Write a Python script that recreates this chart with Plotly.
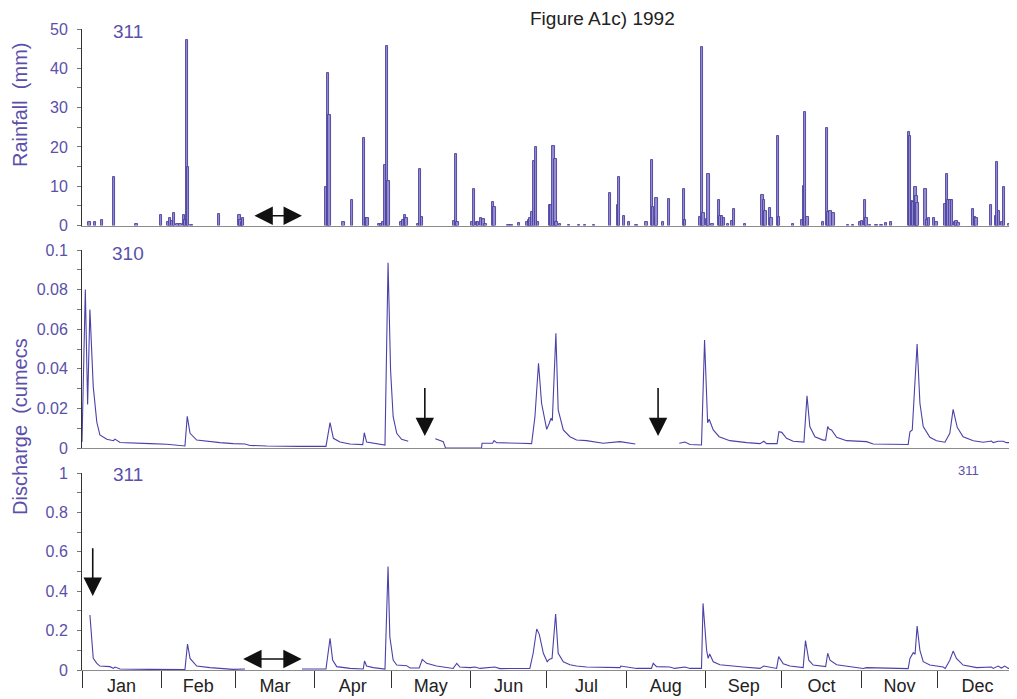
import pandas as pd
import plotly.graph_objects as go

# ---------------- data (day offsets from 1 Jan 1992) ----------------
rain_day = [2.9, 5.1, 7.9, 12.5, 21.4, 30.9, 33.8, 34.4, 35.5, 36.1, 37.4, 38.6, 40.0, 40.4,
            41.1, 41.6, 42.9, 53.6, 61.6, 62.1, 62.6, 63.1, 95.5, 96.4, 96.8, 102.3, 105.8,
            110.4, 111.2, 111.7, 116.4, 117.0, 117.9, 118.6, 119.5, 120.0, 125.1, 125.8,
            126.4, 127.1, 131.6, 132.3, 133.0, 145.7, 146.4, 147.0, 152.9, 153.4, 154.7,
            155.1, 156.2, 157.1, 158.0, 160.9, 161.5, 166.9, 168.2, 171.0, 174.4, 175.0,
            175.5, 176.2, 176.9, 177.7, 178.6, 183.2, 183.8, 184.6, 185.4, 185.8, 187.1,
            190.7, 194.6, 196.9, 200.4, 206.7, 209.7, 210.1, 212.1, 214.2, 217.1, 221.0,
            223.2, 223.6, 224.7, 224.9, 227.5, 229.7, 235.7, 236.1, 241.9, 242.7, 243.3,
            244.9, 245.3, 246.8, 249.3, 250.0, 250.6, 251.3, 252.9, 254.4, 255.3, 259.5,
            266.4, 267.0, 267.6, 269.4, 269.9, 272.4, 272.9, 278.4, 282.1, 282.6, 283.0,
            284.0, 290.1, 291.6, 292.2, 293.0, 294.1, 299.9, 301.9, 304.5, 305.3, 306.6,
            307.1, 308.4, 311.0, 313.0, 314.7, 316.6, 323.7, 324.2, 325.0, 325.4, 326.2,
            326.7, 327.1, 330.2, 331.0, 331.6, 333.5, 334.5, 338.0, 338.7, 339.2, 340.0,
            340.6, 341.8, 342.3, 343.1, 348.7, 349.5, 350.2, 355.8, 357.7, 358.2, 359.0,
            360.2, 360.9, 362.9]
rain_mm = [0.8, 1.0, 1.3, 12.3, 0.3, 2.7, 1.0, 1.8, 1.2, 3.2, 0.3, 0.3, 2.8, 1.5,
           47.3, 14.9, 0.2, 3.0, 2.7, 1.3, 1.0, 2.0, 9.8, 38.9, 28.2, 1.0, 6.4,
           22.3, 2.0, 2.0, 0.5, 0.5, 0.8, 15.5, 45.6, 11.4, 0.8, 1.5,
           2.8, 2.0, 0.3, 14.5, 2.2, 1.2, 18.2, 1.0, 1.0, 9.3, 1.0,
           1.0, 2.0, 1.6, 0.3, 6.0, 4.8, 0.1, 0.1, 0.6, 0.8, 1.5,
           2.0, 3.5, 16.4, 19.9, 1.0, 5.3, 5.3, 20.3, 17.0, 1.0, 0.3,
           0.2, 0.2, 0.2, 0.2, 8.3, 5.3, 12.3, 2.5, 1.0, 0.2, 1.0,
           16.6, 4.6, 2.5, 6.9, 1.0, 6.8, 9.4, 1.5, 2.1, 45.5, 3.2,
           1.7, 13.1, 0.3, 6.6, 2.5, 2.3, 2.0, 0.3, 1.2, 4.1, 0.5,
           7.8, 6.6, 3.6, 4.5, 1.8, 22.7, 2.1, 0.3, 1.5, 10.0, 28.9,
           2.1, 1.0, 24.9, 3.5, 3.6, 3.3, 0.2, 0.2, 0.8, 1.2, 6.4,
           1.8, 0.2, 0.2, 0.2, 0.7, 0.8, 23.8, 22.7, 6.3, 6.1, 9.8,
           7.4, 5.8, 9.3, 1.3, 2.0, 2.0, 1.0, 5.4, 13.0, 6.6, 6.6,
           6.4, 1.0, 1.2, 0.6, 4.1, 2.2, 2.0, 5.1, 2.5, 16.1, 3.6,
           0.8, 9.8, 0.5]

q310_day = [0.0, 1.3, 2.2, 3.1, 4.4, 5.8, 7.0, 9.7, 12.3, 12.9, 14.9, 20.1, 26.6, 33.2,
            40.3, 41.2, 42.3, 44.9, 48.8, 54.0, 59.2, 63.8, 65.8, 72.3, 85.3, 95.5, 97.1,
            98.4, 101.0, 104.9, 109.9, 110.5, 111.4, 118.6, 119.8, 120.8, 121.8, 123.2,
            125.1, 127.7, 130.0, 138.3, 141.4, 142.3, 156.4, 156.6, 160.7, 161.3, 162.3,
            171.4, 176.0, 177.3, 178.7, 179.9, 181.9, 182.9, 183.6, 184.1, 185.5, 186.4,
            188.4, 191.0, 193.6, 197.5, 204.0, 210.6, 216.6, 225.0, 233.8, 236.0, 238.0,
            242.5, 243.7, 244.9, 245.5, 247.1, 249.4, 253.6, 260.2, 265.4, 266.9, 268.0,
            272.1, 272.8, 273.9, 275.8, 278.4, 282.6, 283.8, 284.9, 286.9, 290.1, 291.1,
            291.9, 292.5, 293.4, 295.4, 299.3, 307.1, 309.7, 323.4, 324.1, 325.0, 326.9,
            328.0, 329.3, 331.9, 334.5, 337.8, 339.7, 341.0, 342.6, 344.9, 348.9, 352.8,
            356.0, 356.7, 358.6, 360.6, 361.9, 366.0]
q310 = [0.003, 0.080, 0.022, 0.070, 0.031, 0.013, 0.0066, 0.0044, 0.0037, 0.0045, 0.0028,
        0.0024, 0.0022, 0.0019, 0.0010, 0.016, 0.0074, 0.0040, 0.0033, 0.0027, 0.0022,
        0.0020, 0.0013, 0.0010, 0.0008, 0.0008, 0.0128, 0.0049, 0.0030, 0.0020, 0.0017,
        0.0077, 0.0030, 0.0015, 0.0936, 0.039, 0.0158, 0.0074, 0.0044, 0.0034, None,
        0.0047, 0.0032, 0.0, 0.0, 0.0024, 0.0024, 0.0037, 0.0027, 0.0024, 0.0022, 0.0158,
        0.0428, 0.0226, 0.0094, 0.0125, 0.0150, 0.0138, 0.058, 0.0192, 0.0091, 0.0057,
        0.0040, 0.0037, 0.0024, 0.0032, 0.0020, None, 0.0024, 0.0030, 0.0018, 0.0015,
        0.0545, 0.0128, 0.0145, 0.0091, 0.0057, 0.0037, 0.0027, 0.0022, 0.0034, 0.0022,
        0.0022, 0.0082, 0.0079, 0.0049, 0.0034, 0.0030, 0.0264, 0.0108, 0.0057, 0.0040,
        0.0040, 0.0108, 0.0096, 0.0091, 0.0054, 0.0037, 0.0032, 0.0020, 0.0018, 0.0082,
        0.0091, 0.0525, 0.0226, 0.0108, 0.0054, 0.0037, 0.0029, 0.0074, 0.0195, 0.0104,
        0.0057, 0.0037, 0.0029, 0.0035, 0.0027, 0.0034, 0.0034, 0.0027, 0.0027]

q311_day = [3.1, 3.8, 4.4, 5.8, 7.0, 11.0, 12.3, 12.9, 14.9, 26.6, 40.3, 41.3, 42.3, 44.9,
            50.1, 59.2, 63.8, 75.0, 86.1, 95.5, 97.1, 98.1, 99.7, 104.9, 110.1, 110.6,
            111.4, 114.0, 118.6, 119.8, 120.5, 121.8, 123.2, 127.1, 128.4, 131.0, 132.0,
            133.2, 134.9, 138.8, 145.3, 146.7, 147.9, 151.9, 153.8, 155.8, 161.6, 163.6,
            175.3, 176.6, 178.0, 179.0, 180.6, 182.1, 182.9, 184.0, 185.4, 186.4, 188.4,
            191.0, 193.6, 197.5, 210.6, 210.9, 217.1, 222.9, 223.6, 224.9, 230.1, 232.0,
            236.0, 238.0, 242.5, 243.1, 244.5, 245.1, 245.7, 247.1, 249.7, 258.8, 265.4,
            266.9, 271.9, 272.7, 274.5, 277.1, 282.3, 283.2, 284.5, 286.2, 291.1, 291.9,
            292.8, 295.4, 300.6, 305.8, 307.1, 323.4, 324.1, 325.4, 326.1, 326.9, 328.0,
            329.3, 331.9, 337.1, 337.9, 339.7, 341.0, 342.3, 344.9, 350.2, 356.0, 356.7,
            358.6, 359.9, 361.2, 362.6, 366.0]
q311 = [0.279, 0.135, 0.059, 0.034, 0.020, 0.017, 0.008, 0.015, 0.005, 0.003, 0.002, 0.132,
        0.059, 0.020, 0.012, 0.003, 0.005, None, 0.005, 0.005, 0.161, 0.050, 0.017, 0.008,
        0.005, 0.046, 0.020, 0.012, 0.005, 0.525, 0.169, 0.050, 0.025, 0.022, 0.010, 0.012,
        0.010, 0.054, 0.034, 0.020, 0.008, 0.034, 0.015, 0.012, 0.015, 0.008, 0.015, 0.007,
        0.008, 0.085, 0.208, 0.181, 0.085, 0.042, 0.054, 0.059, 0.284, 0.085, 0.042, 0.027,
        0.020, 0.015, 0.012, 0.020, 0.008, 0.008, 0.034, 0.017, 0.015, 0.008, 0.015, 0.008,
        0.008, 0.338, 0.100, 0.059, 0.081, 0.042, 0.027, 0.015, 0.008, 0.020, 0.008, 0.068,
        0.032, 0.020, 0.012, 0.149, 0.050, 0.025, 0.017, 0.085, 0.050, 0.027, 0.017, 0.008,
        0.012, 0.007, 0.059, 0.088, 0.080, 0.223, 0.100, 0.042, 0.025, 0.015, 0.008, 0.050,
        0.096, 0.059, 0.025, 0.012, 0.015, 0.008, 0.020, 0.010, 0.020, 0.008, 0.008]

month_tick_format = "%b"
title_text = "Figure A1c) 1992"

# ---------------- helpers ----------------
START = pd.Timestamp("1992-01-01")
END = pd.Timestamp("1993-01-01")


def to_dates(days):
    return [START + pd.Timedelta(days=d) for d in days]


PURPLE = "#5a50aa"
LINE = "#4b41a6"
FONT = "Liberation Sans, Arial, sans-serif"

fig = go.Figure()

fig.add_trace(go.Bar(
    x=to_dates(rain_day), y=rain_mm, xaxis="x", yaxis="y",
    width=86400000 * 0.95,
    marker=dict(color="#958dcf", line=dict(color="#4a3f9e", width=0.9)),
    showlegend=False))

fig.add_trace(go.Scatter(
    x=to_dates(q310_day), y=q310, xaxis="x2", yaxis="y2", mode="lines",
    line=dict(color=LINE, width=1.1), connectgaps=False, showlegend=False))

fig.add_trace(go.Scatter(
    x=to_dates(q311_day), y=q311, xaxis="x3", yaxis="y3", mode="lines",
    line=dict(color=LINE, width=1.1), connectgaps=False, showlegend=False))

# the page body has an 8px margin, so the figure is drawn 8px smaller and offset
H = 650.0  # plot-area height in px


def dom(y_bottom_px, y_top_px):
    return [(670 - y_bottom_px) / H, (670 - y_top_px) / H]


xcommon = dict(type="date", range=[START, END], showgrid=False, zeroline=False,
               showline=True, linecolor="#8c8c8c", linewidth=1)

yfont = dict(family=FONT, size=16, color=PURPLE)
ycommon = dict(showgrid=False, zeroline=False, showline=True, linecolor="#333333",
               linewidth=1, ticks="outside", ticklen=4, tickcolor="#777777",
               tickfont=yfont, ticklabelstandoff=6)

fig.update_layout(
    width=1009, height=691,
    margin=dict(l=74, r=0, t=12, b=29),
    paper_bgcolor="white", plot_bgcolor="white",
    bargap=0,
    xaxis=dict(**xcommon, anchor="y", matches="x3", showticklabels=False, ticks=""),
    xaxis2=dict(**xcommon, anchor="y2", matches="x3", showticklabels=False, ticks=""),
    xaxis3=dict(**xcommon, anchor="y3", tickformat=month_tick_format, dtick="M1",
                tick0="1992-01-01", ticklabelmode="period", ticks="outside",
                ticklen=17, tickcolor="#333333", tickwidth=1,
                tickfont=dict(family=FONT, size=18, color="#222222"),
                ticklabelstandoff=-18),
    yaxis=dict(**ycommon, anchor="x", domain=dom(225.5, 29), range=[0, 50],
               dtick=10, minor=dict(dtick=5, ticks="outside", ticklen=4, tickcolor="#777777")),
    yaxis2=dict(**ycommon, anchor="x2", domain=dom(448, 250), range=[0, 0.1],
                tickvals=[0, 0.02, 0.04, 0.06, 0.08, 0.1],
                ticktext=["0", "0.02", "0.04", "0.06", "0.08", "0.1"],
                minor=dict(tickvals=[0.01, 0.03, 0.05, 0.07, 0.09], ticks="outside",
                           ticklen=4, tickcolor="#777777")),
    yaxis3=dict(**ycommon, anchor="x3", domain=dom(670, 473), range=[0, 1],
                tickvals=[0, 0.2, 0.4, 0.6, 0.8, 1],
                ticktext=["0", "0.2", "0.4", "0.6", "0.8", "1"],
                minor=dict(tickvals=[0.1, 0.3, 0.5, 0.7, 0.9], ticks="outside",
                           ticklen=4, tickcolor="#777777")),
)

# ---------------- text annotations ----------------
def px_x(px):
    return (px - 82) / 935.0


def px_y(py):
    return (670 - py) / H


texts = [
    (title_text, 602, 18, 19, "#222222", 0),
    ("311", 128, 31, 19, PURPLE, 0),
    ("310", 128, 253, 19, PURPLE, 0),
    ("311", 128, 475, 19, PURPLE, 0),
    ("311", 968, 471, 13, PURPLE, 0),
    ("Rainfall  (mm)", 20, 105, 20, PURPLE, -90),
    ("Discharge  (cumecs", 20, 427, 20, PURPLE, -90),
]
for t, x, y, s, c, ang in texts:
    fig.add_annotation(text=t, xref="paper", yref="paper", x=px_x(x), y=px_y(y),
                       xanchor="center", yanchor="middle", showarrow=False,
                       textangle=ang, font=dict(family=FONT, size=s, color=c))

# ---------------- arrows (gaps in record) ----------------
def arrow(xr, yr, x_tip, y_tip, x_tail, y_tail, both=False):
    kw = dict(text="", xref=xr, yref=yr, axref=xr, ayref=yr,
              x=START + pd.Timedelta(days=x_tip), y=y_tip,
              ax=START + pd.Timedelta(days=x_tail), ay=y_tail,
              showarrow=True, arrowhead=2, arrowsize=2.3, arrowwidth=1.6,
              arrowcolor="#111111", standoff=0, startstandoff=0)
    if both:
        kw.update(arrowside="end+start", startarrowhead=2, startarrowsize=2.3)
    fig.add_annotation(**kw)


arrow("x", "y", 86.1, 2.5, 66.9, 2.5, both=True)
arrow("x3", "y3", 86.0, 0.056, 62.5, 0.056, both=True)
arrow("x2", "y2", 134.2, 0.006, 134.2, 0.031)
arrow("x2", "y2", 225.5, 0.006, 225.5, 0.031)
arrow("x3", "y3", 4.2, 0.376, 4.2, 0.626)

fig.write_html("out.html")
